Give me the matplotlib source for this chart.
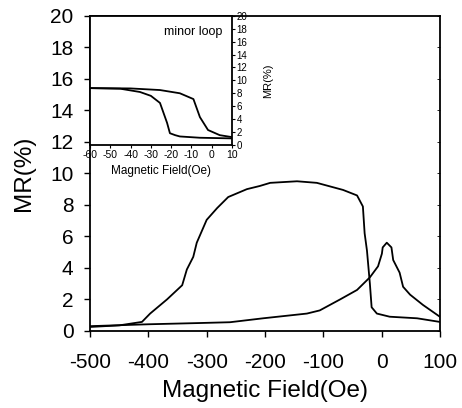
import matplotlib
matplotlib.use('Agg')
import matplotlib.pyplot as plt

plt.rcParams['font.family'] = ['Liberation Sans', 'DejaVu Sans']
plt.rcParams['axes.unicode_minus'] = False

# main plot: branch with the big plateau
hump_x = [-500, -450, -411, -397, -368, -342, -334, -323, -317, -300, -282, -263,
          -231, -209, -191, -145, -111, -66, -42, -32, -29, -25, -20, -17, -8,
          14, 61, 100]
hump_y = [0.25, 0.35, 0.57, 1.1, 2.0, 2.9, 3.9, 4.7, 5.6, 7.05, 7.8, 8.5,
          9.0, 9.2, 9.4, 9.5, 9.4, 8.95, 8.6, 7.9, 6.2, 5.1, 3.0, 1.5, 1.1,
          0.9, 0.8, 0.57]

# main plot: branch with the peak near zero field
peak_x = [-500, -400, -311, -260, -203, -128, -106, -71, -42, -20, -6, 0.6,
          2, 9, 17, 20, 31, 37, 49, 71, 100]
peak_y = [0.3, 0.42, 0.5, 0.55, 0.8, 1.1, 1.3, 2.0, 2.6, 3.4, 4.1, 4.9,
          5.3, 5.6, 5.3, 4.5, 3.7, 2.8, 2.3, 1.65, 0.9]

# inset (minor loop)
minor_a_x = [-60, -45, -35.4, -30, -25.5, -22, -20.6, -18, -15.7, -5.8, 10]
minor_a_y = [8.8, 8.7, 8.2, 7.6, 6.5, 3.4, 1.8, 1.5, 1.3, 1.1, 1.0]
minor_b_x = [-60, -40, -25.5, -15.7, -9, -5.8, -1.8, 4, 10]
minor_b_y = [8.8, 8.75, 8.5, 8.0, 7.1, 4.3, 2.3, 1.5, 1.2]

main_xticks = [-500, -400, -300, -200, -100, 0, 100]
main_yticks = list(range(0, 21, 2))
inset_xticks = [-60, -50, -40, -30, -20, -10, 0, 10]
inset_yticks = list(range(0, 21, 2))

fig = plt.figure(figsize=(4.62, 4.08), dpi=100)
ax = fig.add_axes([0.195, 0.189, 0.757, 0.772])
ax.plot(hump_x, hump_y, color='black', lw=1.3)
ax.plot(peak_x, peak_y, color='black', lw=1.3)
ax.set_xlim(-500, 100)
ax.set_ylim(0, 20)
ax.set_xticks(main_xticks)
ax.set_yticks(main_yticks)
ax.tick_params(labelsize=15, length=4, width=1)
ax.tick_params(axis='x', pad=12)
ax.tick_params(axis='y', pad=8)
ax.tick_params(axis='y', right=True, which='both')
ax.set_xlabel('Magnetic Field(Oe)', fontsize=17.5, labelpad=6)
ax.set_ylabel('MR(%)', fontsize=17.5, labelpad=11)
for s in ax.spines.values():
    s.set_linewidth(1.3)
# faint inward ticks on the right spine
for t in ax.yaxis.get_major_ticks():
    t.tick2line.set_marker(matplotlib.lines.TICKLEFT)
    t.tick2line.set_markersize(2)
    t.tick2line.set_markeredgewidth(0.6)

ins = fig.add_axes([0.195, 0.645, 0.307, 0.316])
ins.plot(minor_a_x, minor_a_y, color='black', lw=1.3)
ins.plot(minor_b_x, minor_b_y, color='black', lw=1.3)
ins.set_xlim(-60, 10)
ins.set_ylim(0, 20)
ins.set_xticks(inset_xticks)
ins.set_yticks(inset_yticks)
ins.yaxis.tick_right()
ins.yaxis.set_label_position('right')
ins.tick_params(labelsize=7.5, length=2, width=0.8, pad=1.5)
ins.tick_params(axis='y', labelsize=7)
ins.set_xlabel('Magnetic Field(Oe)', fontsize=8.5, labelpad=4)
ins.set_ylabel('MR(%)', fontsize=8, labelpad=11)
ins.text(0.935, 0.875, 'minor loop', transform=ins.transAxes, ha='right',
         va='center', fontsize=9)
for s in ins.spines.values():
    s.set_linewidth(1.3)

fig.savefig('out.png', dpi=100)
